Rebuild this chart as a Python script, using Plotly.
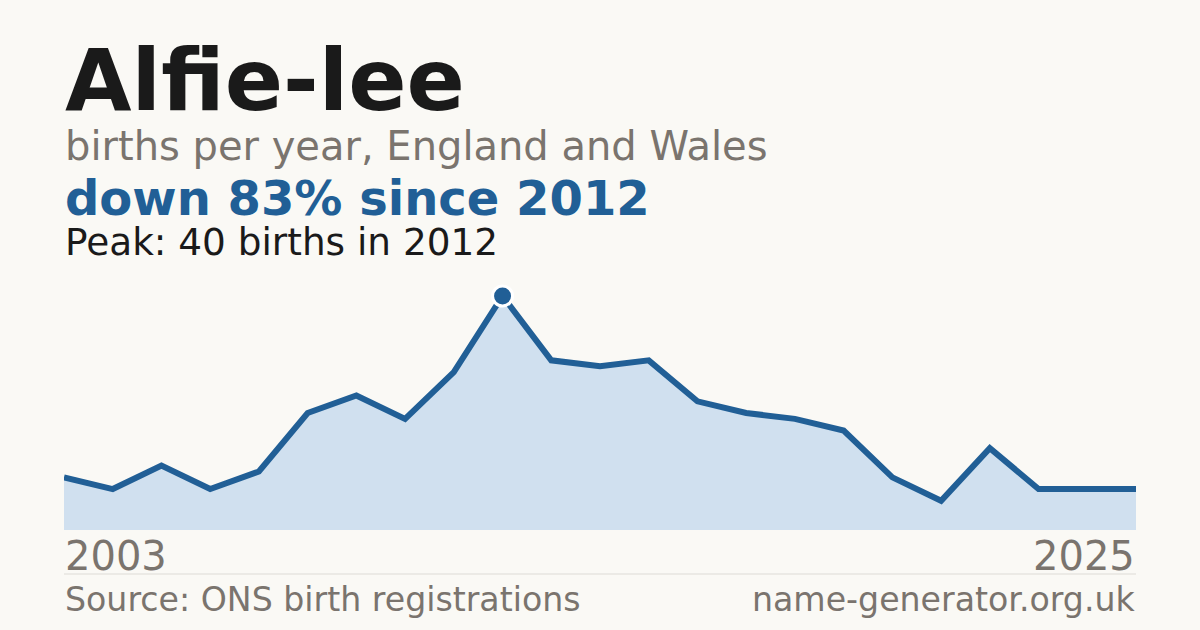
import plotly.graph_objects as go

years = list(range(2003, 2026))
births = [9, 7, 11, 7, 10, 20, 23, 19, 27, 40, 29, 28, 29, 22, 20, 19, 17, 9, 5, 14, 7, 7, 7]
peak_year = 2012
peak_value = 40

title = "Alfie-lee"
subtitle = "births per year, England and Wales"
headline = "down 83% since 2012"
peak_text = "Peak: 40 births in 2012"
source = "Source: ONS birth registrations"
site = "name-generator.org.uk"

W, H = 1200, 630
BG = "#faf9f5"
BLUE = "#215f96"
FILL = "#d0e0ef"
GREY = "#7a746e"
DARK = "#1a1a1a"
FONT = "DejaVu Sans"

def py(pix):
    return 1 - pix / H

def px(pix):
    return pix / W

fig = go.Figure()
fig.add_trace(go.Scatter(
    x=years, y=births, mode="lines",
    line=dict(color=BLUE, width=6),
    fill="tozeroy", fillcolor=FILL,
    hoverinfo="skip", cliponaxis=False,
))
fig.add_trace(go.Scatter(
    x=[peak_year], y=[peak_value], mode="markers",
    marker=dict(color=BLUE, size=20, line=dict(color="white", width=3)),
    hoverinfo="skip", cliponaxis=False,
))

annos = [
    (title, 86, DARK, "bold", 112, 64, "left"),
    (subtitle, 40, GREY, "normal", 161, 64, "left"),
    (headline, 48, BLUE, "bold", 216, 64, "left"),
    (peak_text, 37.4, DARK, "normal", 256, 64, "left"),
    (str(years[0]), 40, GREY, "normal", 571, 64, "left"),
    (str(years[-1]), 40, GREY, "normal", 571, 1136, "right"),
    (source, 33.2, GREY, "normal", 612, 64, "left"),
    (site, 33.2, GREY, "normal", 612, 1136, "right"),
]
for text, size, color, weight, baseline, x, anchor in annos:
    fig.add_annotation(
        text=text, xref="paper", yref="paper",
        x=px(x), y=py(baseline - 0.37 * size),
        xanchor=anchor, yanchor="middle", showarrow=False,
        font=dict(family=FONT, size=size, color=color, weight=weight),
        borderpad=0,
    )

fig.add_shape(type="line", xref="paper", yref="paper",
              x0=px(64), x1=px(1136), y0=py(574), y1=py(574),
              line=dict(color="#dddbd6", width=1))

fig.update_layout(
    width=W, height=H,
    margin=dict(l=0, r=0, t=0, b=0),
    paper_bgcolor=BG, plot_bgcolor=BG,
    showlegend=False,
    xaxis=dict(domain=[px(64), px(1136)], range=[years[0], years[-1]],
               visible=False, fixedrange=True),
    yaxis=dict(domain=[py(530), py(296)], range=[0, peak_value],
               visible=False, fixedrange=True),
)

fig.write_html("out.html", config={"displayModeBar": False},
               post_script="document.body.style.margin='0';document.body.style.overflow='hidden';document.body.style.background='#faf9f5';")
